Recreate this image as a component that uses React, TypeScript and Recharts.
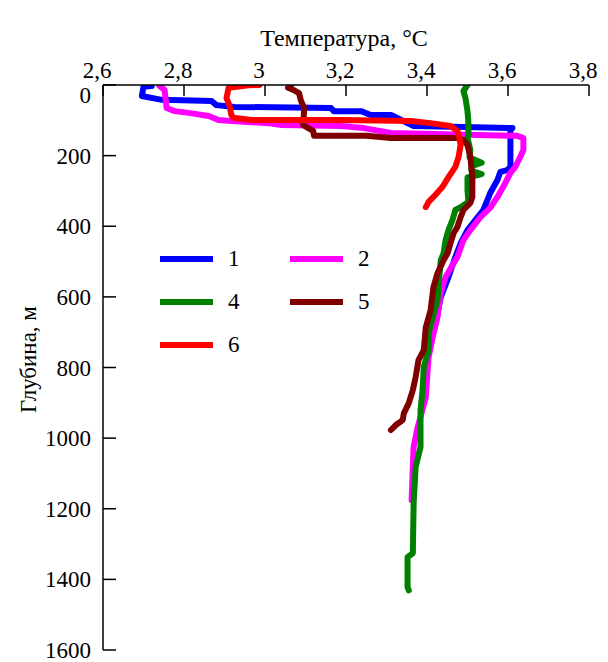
import { LineChart, Line, XAxis, YAxis, Legend } from 'recharts';

// depth (m) and temperature (°C)
const depth1 = [3, 5, 31, 42, 45, 57, 62, 65, 74, 74, 85, 85, 116, 119, 122, 127, 232, 241, 246, 269, 306, 354, 374, 411, 448, 487, 544, 601, 657, 714, 771, 820];
const temp1 = [2.72, 2.7, 2.696, 2.745, 2.868, 2.88, 2.925, 3.163, 3.17, 3.237, 3.261, 3.311, 3.367, 3.49, 3.611, 3.606, 3.606, 3.598, 3.581, 3.574, 3.556, 3.539, 3.525, 3.5, 3.483, 3.47, 3.453, 3.434, 3.424, 3.412, 3.402, 3.398];

const depth2 = [3, 14, 65, 74, 79, 88, 99, 102, 108, 113, 116, 122, 136, 144, 150, 184, 204, 232, 249, 289, 317, 348, 374, 411, 439, 487, 504, 544, 589, 657, 714, 771, 799, 884, 969, 1025, 1082, 1176];
const temp2 = [2.74, 2.752, 2.757, 2.777, 2.811, 2.861, 2.885, 2.917, 3.008, 3.04, 3.188, 3.244, 3.311, 3.623, 3.638, 3.638, 3.63, 3.618, 3.606, 3.588, 3.574, 3.556, 3.532, 3.507, 3.49, 3.475, 3.466, 3.446, 3.434, 3.426, 3.414, 3.404, 3.402, 3.397, 3.377, 3.367, 3.365, 3.362];

const depth4 = [0, 17, 37, 74, 102, 142, 150, 184, 205, 220, 230, 243, 252, 262, 297, 331, 346, 354, 382, 411, 439, 476, 496, 561, 609, 657, 703, 751, 799, 864, 921, 1025, 1082, 1184, 1326, 1337, 1422, 1431];
const temp4 = [3.5, 3.49, 3.495, 3.5, 3.502, 3.502, 3.5, 3.507, 3.505, 3.535, 3.51, 3.51, 3.535, 3.5, 3.5, 3.502, 3.483, 3.47, 3.463, 3.453, 3.446, 3.441, 3.434, 3.429, 3.426, 3.414, 3.404, 3.404, 3.392, 3.389, 3.384, 3.384, 3.372, 3.367, 3.365, 3.352, 3.352, 3.355];

const depth5 = [0, 8, 14, 23, 45, 65, 113, 122, 130, 144, 144, 150, 150, 156, 170, 204, 261, 317, 334, 354, 374, 402, 419, 448, 476, 496, 533, 572, 637, 686, 751, 779, 827, 864, 901, 929, 949, 963, 977];
const temp5 = [3.065, 3.057, 3.07, 3.084, 3.089, 3.097, 3.094, 3.107, 3.119, 3.121, 3.25, 3.311, 3.475, 3.49, 3.5, 3.507, 3.512, 3.512, 3.507, 3.49, 3.483, 3.475, 3.466, 3.458, 3.451, 3.441, 3.426, 3.416, 3.409, 3.397, 3.392, 3.379, 3.372, 3.365, 3.355, 3.343, 3.34, 3.323, 3.311];

const depth6 = [0, 1, 6, 8, 37, 57, 85, 93, 99, 99, 102, 108, 116, 130, 150, 170, 204, 232, 261, 289, 317, 331, 346];
const temp6 = [2.986, 2.959, 2.925, 2.91, 2.905, 2.912, 2.917, 2.922, 2.966, 3.188, 3.36, 3.409, 3.458, 3.475, 3.48, 3.483, 3.478, 3.47, 3.453, 3.438, 3.416, 3.404, 3.397];

const tempTicks = [2.6, 2.8, 3, 3.2, 3.4, 3.6, 3.8];
const depthTicks = [0, 200, 400, 600, 800, 1000, 1200, 1400, 1600];

const FONT = '"Liberation Serif", "Times New Roman", serif';
const X_GAP = 7;
const Y_GAP = 12;

const toRows = (depth: number[], temp: number[]) => depth.map((d, i) => ({ depth: d, temp: temp[i] }));

const series = [
  { name: '1', color: '#0000ff', rows: toRows(depth1, temp1) },
  { name: '2', color: '#ff00ff', rows: toRows(depth2, temp2) },
  { name: '4', color: '#008000', rows: toRows(depth4, temp4) },
  { name: '5', color: '#800000', rows: toRows(depth5, temp5) },
  { name: '6', color: '#ff0000', rows: toRows(depth6, temp6) },
];

// label above the axis plus an inward tick mark
const XTick = ({ x, y, payload }: any) => (
  <g>
    <line x1={x} x2={x} y1={y + X_GAP} y2={y + X_GAP + 11} stroke="#000" strokeWidth={1.5} />
    <text x={x - 6} y={y} textAnchor="middle" fontFamily={FONT} fontSize={23} fill="#000">
      {String(payload.value).replace('.', ',')}
    </text>
  </g>
);

const YTick = ({ x, y, payload }: any) => (
  <g>
    <line x1={x + Y_GAP} x2={x + Y_GAP + 13} y1={y} y2={y} stroke="#000" strokeWidth={1.5} />
    <text x={x} y={y + (payload.value === 0 ? 10 : 0)} dy="0.35em" textAnchor="end" fontFamily={FONT} fontSize={23} fill="#000">
      {payload.value}
    </text>
  </g>
);

const renderLegend = ({ payload }: any) => (
  <div style={{ display: 'grid', gridTemplateColumns: '130px 130px', fontFamily: FONT, fontSize: 23 }}>
    {(payload || []).map((p: any) => (
      <div key={p.value} style={{ display: 'flex', alignItems: 'center', height: 43 }}>
        <span style={{ display: 'inline-block', width: 53, height: 6, background: p.color, marginRight: 15 }} />
        <span>{p.value}</span>
      </div>
    ))}
  </div>
);

export default function App() {
  return (
    <div style={{ width: 600, height: 654 }}>
      <LineChart width={600} height={654} layout="vertical" margin={{ top: 0, right: 19, bottom: 12, left: 0 }}>
        <XAxis
          type="number"
          dataKey="temp"
          orientation="top"
          domain={[2.6, 3.8]}
          ticks={tempTicks}
          interval={0}
          allowDataOverflow
          height={77}
          tickSize={0}
          tickMargin={X_GAP}
          tick={<XTick />}
          tickLine={false}
          axisLine={{ stroke: '#000', strokeWidth: 1.5 }}
          label={(props: any) => {
            const vb = props.viewBox;
            return (
              <text x={vb.x + vb.width / 2 - 2} y={vb.y + 38} textAnchor="middle" fontFamily={FONT} fontSize={24} fill="#000">
                Температура, °C
              </text>
            );
          }}
        />
        <YAxis
          type="number"
          dataKey="depth"
          domain={[0, 1600]}
          ticks={depthTicks}
          interval={0}
          allowDataOverflow
          width={95}
          tickSize={0}
          tickMargin={Y_GAP}
          tick={<YTick />}
          tickLine={false}
          axisLine={{ stroke: '#000', strokeWidth: 1.5 }}
          label={(props: any) => {
            const vb = props.viewBox;
            const cx = vb.x + 20;
            const cy = vb.y + vb.height / 2 - 8;
            return (
              <text x={cx} y={cy} transform={`rotate(-90 ${cx} ${cy})`} textAnchor="middle" dominantBaseline="central" fontFamily={FONT} fontSize={23} fill="#000">
                Глубина, м
              </text>
            );
          }}
        />
        <Legend
          layout="vertical"
          align="center"
          verticalAlign="middle"
          content={renderLegend}
          wrapperStyle={{ left: 152, top: 229, width: 270 }}
        />
        {series.map(s => (
          <Line
            key={s.name}
            data={s.rows}
            dataKey="temp"
            name={s.name}
            stroke={s.color}
            strokeWidth={6}
            strokeLinejoin="round"
            strokeLinecap="round"
            dot={false}
            isAnimationActive={false}
          />
        ))}
      </LineChart>
    </div>
  );
}
